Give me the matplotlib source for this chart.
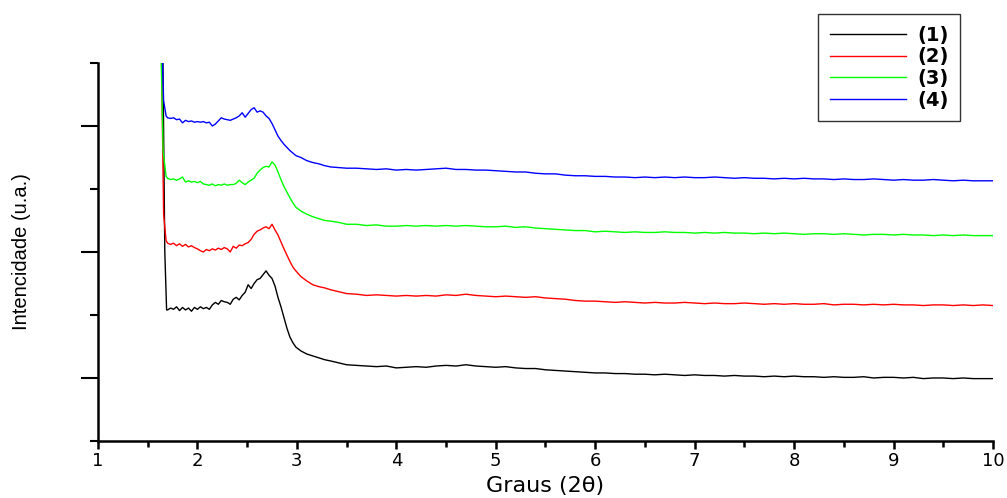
import matplotlib
matplotlib.use("Agg")
import matplotlib.pyplot as plt
from matplotlib.ticker import MultipleLocator, NullFormatter

plt.rcParams['font.family'] = ['DejaVu Sans']

# shared x grid (2theta)
head_x = [1.70, 1.73, 1.76, 1.79, 1.82, 1.85, 1.88, 1.91, 1.94, 1.97,
          2.00, 2.03, 2.06, 2.09, 2.12, 2.15, 2.18, 2.21, 2.24, 2.27,
          2.30, 2.33, 2.36, 2.39, 2.42, 2.45, 2.48, 2.51, 2.54, 2.57,
          2.60, 2.63, 2.66, 2.69, 2.72, 2.75, 2.78, 2.81, 2.84, 2.87,
          2.90, 2.93, 2.96, 2.99, 3.04, 3.10, 3.16, 3.22, 3.28, 3.34,
          3.42, 3.50]
tail_x = [3.6, 3.7, 3.8, 3.9, 4.0, 4.1, 4.2, 4.3, 4.4, 4.5, 4.6, 4.7, 4.8,
          4.9, 5.0, 5.1, 5.2, 5.3, 5.4, 5.5, 5.6, 5.7, 5.8, 5.9, 6.0, 6.1,
          6.2, 6.3, 6.4, 6.5, 6.6, 6.7, 6.8, 6.9, 7.0, 7.1, 7.2, 7.3, 7.4,
          7.5, 7.6, 7.7, 7.8, 7.9, 8.0, 8.1, 8.2, 8.3, 8.4, 8.5, 8.6, 8.7,
          8.8, 8.9, 9.0, 9.1, 9.2, 9.3, 9.4, 9.5, 9.6, 9.7, 9.8, 9.9, 10.0]

# steep start of each curve (goes above the top of the axes)
lead_x_1 = [1.650, 1.672, 1.690]
lead_y_1 = [6.5, 3.0, 2.08]
lead_x_2 = [1.635, 1.660, 1.685]
lead_y_2 = [6.5, 3.6, 3.18]
lead_x_3 = [1.630, 1.655, 1.685]
lead_y_3 = [6.5, 4.6, 4.20]
lead_x_4 = [1.640, 1.660, 1.685]
lead_y_4 = [6.5, 5.4, 5.16]

head_y_1 = [2.08, 2.11, 2.09, 2.13, 2.07, 2.12, 2.08, 2.11, 2.06, 2.12,
            2.09, 2.13, 2.10, 2.12, 2.09, 2.16, 2.20, 2.17, 2.23, 2.21,
            2.20, 2.17, 2.25, 2.28, 2.24, 2.31, 2.36, 2.48, 2.42, 2.50,
            2.56, 2.58, 2.64, 2.70, 2.63, 2.58, 2.46, 2.28, 2.13, 1.96,
            1.79, 1.65, 1.56, 1.49, 1.43, 1.38, 1.35, 1.32, 1.29, 1.27,
            1.24, 1.21]
tail_y_1 = [1.20, 1.19, 1.18, 1.19, 1.16, 1.17, 1.18, 1.17, 1.19, 1.20,
            1.19, 1.21, 1.19, 1.18, 1.17, 1.18, 1.16, 1.15, 1.15, 1.13,
            1.12, 1.11, 1.10, 1.09, 1.08, 1.08, 1.07, 1.07, 1.06, 1.06,
            1.05, 1.06, 1.05, 1.04, 1.05, 1.04, 1.04, 1.03, 1.04, 1.03,
            1.03, 1.02, 1.03, 1.02, 1.03, 1.02, 1.02, 1.01, 1.02, 1.01,
            1.01, 1.02, 1.00, 1.01, 1.01, 1.00, 1.01, 0.99, 1.00, 1.00,
            0.99, 1.00, 0.99, 0.99, 0.99]

head_y_2 = [3.14, 3.12, 3.14, 3.10, 3.13, 3.09, 3.12, 3.08, 3.10, 3.07,
            3.05, 3.02, 3.00, 3.04, 3.02, 3.05, 3.03, 3.06, 3.04, 3.07,
            3.05, 3.00, 3.09, 3.06, 3.11, 3.10, 3.13, 3.15, 3.20, 3.28,
            3.33, 3.35, 3.38, 3.40, 3.37, 3.44, 3.35, 3.27, 3.16, 3.05,
            2.95, 2.85, 2.76, 2.70, 2.61, 2.54, 2.48, 2.45, 2.43, 2.40,
            2.37, 2.34]
tail_y_2 = [2.33, 2.31, 2.32, 2.31, 2.30, 2.31, 2.30, 2.31, 2.30, 2.32,
            2.31, 2.33, 2.31, 2.30, 2.29, 2.30, 2.29, 2.28, 2.29, 2.27,
            2.26, 2.25, 2.23, 2.22, 2.22, 2.21, 2.20, 2.21, 2.20, 2.19,
            2.20, 2.19, 2.19, 2.20, 2.19, 2.18, 2.19, 2.18, 2.18, 2.19,
            2.18, 2.17, 2.18, 2.17, 2.18, 2.17, 2.17, 2.18, 2.16, 2.17,
            2.17, 2.16, 2.17, 2.16, 2.17, 2.16, 2.16, 2.15, 2.16, 2.16,
            2.15, 2.16, 2.15, 2.16, 2.15]

head_y_3 = [4.17, 4.15, 4.16, 4.14, 4.16, 4.19, 4.11, 4.13, 4.11, 4.12,
            4.10, 4.12, 4.08, 4.07, 4.06, 4.08, 4.05, 4.07, 4.06, 4.08,
            4.06, 4.07, 4.07, 4.09, 4.14, 4.10, 4.07, 4.11, 4.14, 4.17,
            4.25, 4.30, 4.34, 4.36, 4.35, 4.43, 4.38, 4.27, 4.15, 4.04,
            3.95, 3.86, 3.78, 3.71, 3.65, 3.60, 3.56, 3.53, 3.50, 3.49,
            3.47, 3.44]
tail_y_3 = [3.44, 3.42, 3.43, 3.41, 3.41, 3.42, 3.41, 3.42, 3.41, 3.42,
            3.41, 3.42, 3.41, 3.40, 3.40, 3.41, 3.39, 3.40, 3.38, 3.37,
            3.36, 3.35, 3.34, 3.34, 3.32, 3.33, 3.32, 3.31, 3.32, 3.31,
            3.31, 3.32, 3.31, 3.31, 3.30, 3.31, 3.30, 3.31, 3.30, 3.30,
            3.29, 3.30, 3.29, 3.30, 3.29, 3.28, 3.29, 3.29, 3.28, 3.29,
            3.28, 3.27, 3.28, 3.28, 3.27, 3.28, 3.27, 3.27, 3.26, 3.27,
            3.26, 3.27, 3.26, 3.26, 3.26]

head_y_4 = [5.13, 5.12, 5.13, 5.10, 5.11, 5.05, 5.09, 5.07, 5.08, 5.06,
            5.07, 5.06, 5.07, 5.05, 5.06, 5.00, 5.03, 5.08, 5.13, 5.11,
            5.10, 5.09, 5.11, 5.13, 5.16, 5.21, 5.14, 5.20, 5.26, 5.29,
            5.22, 5.24, 5.22, 5.16, 5.12, 5.04, 4.94, 4.84, 4.77, 4.71,
            4.66, 4.61, 4.57, 4.53, 4.50, 4.45, 4.42, 4.40, 4.37, 4.35,
            4.34, 4.33]
tail_y_4 = [4.33, 4.32, 4.31, 4.32, 4.30, 4.31, 4.30, 4.31, 4.32, 4.33,
            4.31, 4.31, 4.30, 4.30, 4.29, 4.28, 4.27, 4.27, 4.25, 4.24,
            4.24, 4.22, 4.21, 4.21, 4.20, 4.20, 4.19, 4.19, 4.18, 4.19,
            4.18, 4.19, 4.18, 4.19, 4.18, 4.18, 4.19, 4.18, 4.17, 4.18,
            4.17, 4.17, 4.16, 4.17, 4.16, 4.17, 4.16, 4.16, 4.15, 4.16,
            4.15, 4.15, 4.16, 4.15, 4.14, 4.15, 4.14, 4.14, 4.15, 4.14,
            4.13, 4.14, 4.13, 4.13, 4.13]

labels = ['(1)', '(2)', '(3)', '(4)']
colors = ['black', 'red', '#00ff00', 'blue']

series = [
    (lead_x_1 + head_x + tail_x, lead_y_1 + head_y_1 + tail_y_1),
    (lead_x_2 + head_x + tail_x, lead_y_2 + head_y_2 + tail_y_2),
    (lead_x_3 + head_x + tail_x, lead_y_3 + head_y_3 + tail_y_3),
    (lead_x_4 + head_x + tail_x, lead_y_4 + head_y_4 + tail_y_4),
]

fig = plt.figure(figsize=(10.07, 4.98), dpi=100)
ax = fig.add_axes([0.0973, 0.1145, 0.8888, 0.759])

handles = []
for (xs, ys), c, lab in zip(series, colors, labels):
    h, = ax.plot(xs, ys, color=c, lw=1.0, label=lab)
    handles.append(h)

ax.set_xlim(1, 10)
ax.set_ylim(0, 6)

for s in ['top', 'right']:
    ax.spines[s].set_visible(False)
for s in ['left', 'bottom']:
    ax.spines[s].set_linewidth(1.8)

ax.xaxis.set_major_locator(MultipleLocator(1))
ax.xaxis.set_minor_locator(MultipleLocator(0.5))
ax.yaxis.set_major_locator(MultipleLocator(2, offset=1))
ax.yaxis.set_minor_locator(MultipleLocator(2))
ax.yaxis.set_major_formatter(NullFormatter())
ax.tick_params(axis='x', which='major', direction='out', length=6, width=1.8,
               labelsize=13, pad=2)
ax.tick_params(axis='x', which='minor', direction='out', length=4, width=1.8)
ax.tick_params(axis='y', which='major', direction='out', length=12, width=1.5)
ax.tick_params(axis='y', which='minor', direction='out', length=6, width=1.5)

ax.set_xlabel('Graus (2θ)', fontsize=16, labelpad=4)
ax.set_ylabel('Intencidade (u.a.)', fontsize=14.5, labelpad=33,
              family=['Liberation Sans', 'DejaVu Sans'])

leg = fig.legend(handles=handles, labels=labels, loc='upper left',
                 bbox_to_anchor=(818 / 1007, 1 - 14 / 498),
                 prop={'size': 14, 'weight': 'bold'},
                 frameon=True, fancybox=False, shadow=False,
                 handlelength=3.9, handletextpad=0.6, labelspacing=0.14,
                 borderpad=0.6, borderaxespad=0.0)
leg.get_frame().set_edgecolor('black')
leg.get_frame().set_linewidth(1.0)

fig.savefig('out.png', dpi=100)
